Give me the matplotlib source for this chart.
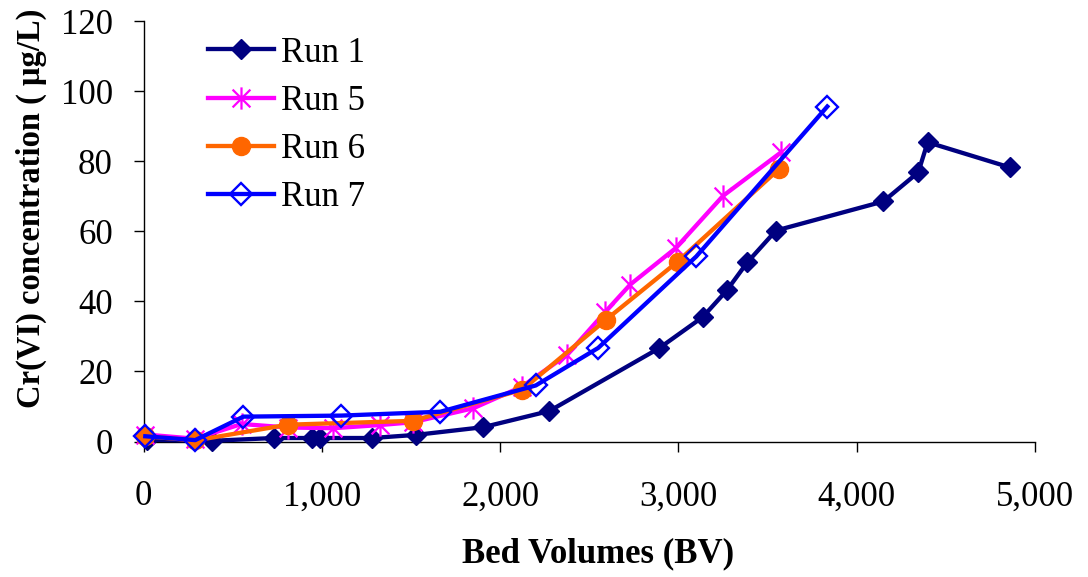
import matplotlib
matplotlib.use("Agg")
import matplotlib.pyplot as plt
import matplotlib.ticker as ticker
from matplotlib.path import Path

# breakthrough data, Cr(VI) in effluent vs bed volumes treated
run1_bv = [20, 385, 730, 945, 990, 1280, 1530, 1906, 2276, 2891, 3136, 3271, 3386, 3547, 4149, 4345, 4398, 4860]
run1_cr = [0.5, 0.2, 1.0, 1.0, 1.0, 1.0, 1.9, 4.1, 8.7, 26.6, 35.5, 43.1, 51.1, 60.2, 68.5, 76.8, 85.4, 78.2]

run5_bv = [10, 290, 550, 810, 1065, 1325, 1510, 1850, 2120, 2375, 2590, 2730, 2985, 3250, 3575]
run5_cr = [2.0, 0.8, 5.0, 4.0, 3.8, 4.7, 5.5, 9.5, 15.6, 24.7, 37.0, 44.8, 55.2, 70.1, 82.5]

run6_bv = [10, 290, 810, 1510, 2125, 2595, 2995, 3565]
run6_cr = [1.5, 0.3, 4.8, 5.9, 14.8, 34.8, 51.3, 77.8]

run7_bv = [10, 290, 560, 1110, 1665, 2200, 2550, 3100, 3835]
run7_cr = [1.5, 0.4, 7.1, 7.4, 8.5, 16.0, 26.7, 52.8, 95.6]

plt.rcParams["font.family"] = ["Liberation Serif", "DejaVu Serif"]

# Excel-style asterisk: vertical bar plus an X
asterisk = Path(
    [(0, -1), (0, 1), (-0.8, -0.8), (0.8, 0.8), (-0.8, 0.8), (0.8, -0.8)],
    [Path.MOVETO, Path.LINETO, Path.MOVETO, Path.LINETO, Path.MOVETO, Path.LINETO],
)

fig = plt.figure(figsize=(10.88, 5.77), dpi=100)
ax = fig.add_axes([0.1319, 0.2348, 0.8194, 0.7288])

lw = 3.1
ax.plot(run1_bv, run1_cr, color="#000080", lw=lw, marker="D", ms=10,
        mfc="#000080", mec="#000080", label="Run 1")
ax.plot(run5_bv, run5_cr, color="#FF00FF", lw=lw, marker=asterisk, ms=16,
        mew=1.6, mec="#FF00FF", mfc="none", label="Run 5")
ax.plot(run6_bv, run6_cr, color="#FF6600", lw=lw, marker="o", ms=13,
        mfc="#FF6600", mec="#FF6600", label="Run 6")
ax.plot(run7_bv, run7_cr, color="#0000FF", lw=lw, marker="D", ms=11.5,
        mew=1.7, mfc="none", mec="#0000FF", label="Run 7")

ax.set_xlim(0, 5000)
ax.set_ylim(0, 120)
ax.set_xticks(range(0, 5001, 1000))
ax.set_yticks(range(0, 121, 20))
ax.xaxis.set_major_formatter(ticker.FuncFormatter(lambda v, _: f"{v:,.0f}"))

ax.spines["top"].set_visible(False)
ax.spines["right"].set_visible(False)
for s in ("left", "bottom"):
    ax.spines[s].set_linewidth(1.0)
    ax.spines[s].set_color("black")
    ax.spines[s].set_zorder(0.5)

ax.tick_params(axis="both", direction="out", length=7, width=1.0, labelsize=25)
ax.tick_params(axis="x", pad=21)
ax.tick_params(axis="y", pad=15)

ax.set_xlabel("Bed Volumes (BV)", fontsize=25, fontweight="bold")
ax.set_ylabel("Cr(VI) concentration ( \u03bcg/L)", fontsize=23.5, fontweight="bold")
ax.xaxis.set_label_coords(0.51, -0.227)
ax.yaxis.set_label_coords(-0.108, 0.555)

ax.legend(loc="upper left", bbox_to_anchor=(0.072, 0.963), frameon=False,
          fontsize=25, borderpad=0, handlelength=1.9, handletextpad=0.2,
          labelspacing=0.44, borderaxespad=0)

for line in ax.get_lines():
    line.set_clip_on(False)

fig.savefig("out.png", dpi=100)
